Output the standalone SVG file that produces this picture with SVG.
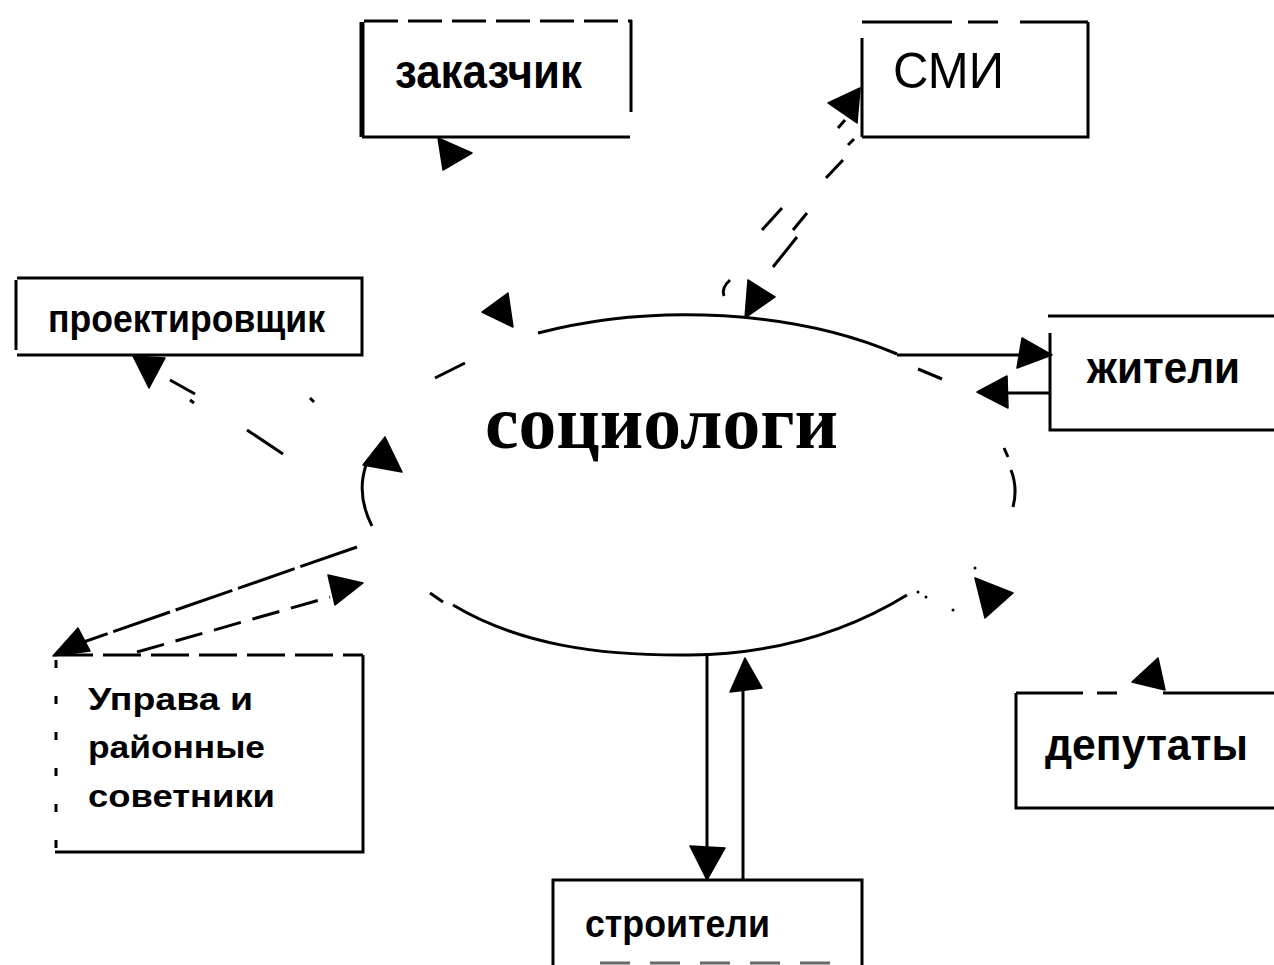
<svg xmlns="http://www.w3.org/2000/svg" width="1274" height="965" viewBox="0 0 1274 965">
<style>
.bg{fill:#fff}
.edge{fill:none;stroke:#000;stroke-width:3}
.thick{fill:none;stroke:#000;stroke-width:5}
.ln{fill:none;stroke:#000;stroke-width:3;stroke-linecap:butt}
.dash{fill:none;stroke:#000;stroke-width:3;stroke-dasharray:34 10}
.ah{fill:#000;stroke:#000;stroke-width:1.5;stroke-linejoin:round}
.dot{fill:#000}
.lbl{font-family:"Liberation Sans",Arial,sans-serif;font-weight:bold;fill:#000}
.reg{font-family:"Liberation Sans",Arial,sans-serif;font-weight:normal;fill:#000}
.ser{font-family:"Liberation Serif","Times New Roman",serif;font-weight:bold;fill:#000}
</style>
<rect class="bg" x="0" y="0" width="1274" height="965"/>

<g id="n-zakazchik">
  <path class="dash" d="M364,21 H632"/>
  <path class="thick" d="M362,22 V137"/>
  <path class="edge" d="M362,137 H630 M631,20 V112"/>
  <text class="lbl" x="395" y="88" font-size="48" textLength="187" lengthAdjust="spacingAndGlyphs">заказчик</text>
</g>

<g id="n-smi">
  <path class="edge" d="M862,22 H952 M968,22 H998 M1020,22 H1088 M1088,22 V137 H862 M862,38 V137"/>
  <text class="reg" x="893" y="88" font-size="50" textLength="111" lengthAdjust="spacingAndGlyphs">СМИ</text>
</g>

<g id="n-proektirovshchik">
  <path class="edge" d="M17,278 H362 V355 H17 M16,280 V350"/>
  <text class="lbl" x="48" y="332" font-size="38" textLength="277" lengthAdjust="spacingAndGlyphs">проектировщик</text>
</g>

<g id="n-sociologi">
  <path class="ln" d="M538,333 A330,171 0 0 1 897,354"/>
  <path class="ln" d="M435,378 L465,363"/>
  <path class="ln" d="M918,369 L942,379"/>
  <path class="ln" d="M1004,448 L1008,457"/>
  <path class="ln" d="M1011,470 Q1018,488 1013,507"/>
  <path class="ln" d="M430,593 L443,602"/>
  <path class="ln" d="M453,605 C520,645 600,656 690,655 C780,654 850,630 907,595"/>
  <circle class="dot" cx="918" cy="592" r="1.5"/>
  <circle class="dot" cx="926" cy="597" r="1.5"/>
  <circle class="dot" cx="953" cy="610" r="1.5"/>
  <circle class="dot" cx="975" cy="568" r="1.5"/>
  <text class="ser" x="485" y="448" font-size="76" textLength="353" lengthAdjust="spacingAndGlyphs">социологи</text>
</g>

<g id="n-zhiteli">
  <path class="edge" d="M1048,316 H1274 M1050,333 V430 H1274"/>
  <text class="lbl" x="1087" y="383" font-size="44" textLength="153" lengthAdjust="spacingAndGlyphs">жители</text>
</g>

<g id="n-uprava">
  <path class="edge" d="M363,655 V852 H55"/>
  <path class="ln" d="M55,655 H363" stroke-dasharray="38 10"/>
  <path class="ln" d="M56,660 V852" stroke-dasharray="8 28"/>
  <text class="lbl" x="88" y="710" font-size="31" textLength="165" lengthAdjust="spacingAndGlyphs">Управа и</text>
  <text class="lbl" x="88" y="758" font-size="31" textLength="177" lengthAdjust="spacingAndGlyphs">районные</text>
  <text class="lbl" x="88" y="807" font-size="31" textLength="187" lengthAdjust="spacingAndGlyphs">советники</text>
</g>

<g id="n-deputaty">
  <path class="edge" d="M1016,693 H1083 M1097,693 H1117 M1163,693 H1274 M1016,693 V808 H1274"/>
  <text class="lbl" x="1045" y="760" font-size="44" textLength="203" lengthAdjust="spacingAndGlyphs">депутаты</text>
</g>

<g id="n-stroiteli">
  <path class="edge" d="M553,965 V880 H862 V965"/>
  <path class="ln" d="M600,963 H850" stroke-dasharray="30 20" opacity="0.6"/>
  <text class="lbl" x="585" y="937" font-size="38" textLength="185" lengthAdjust="spacingAndGlyphs">строители</text>
</g>

<g id="connectors">
  <!-- заказчик -->
  <polygon class="ah" points="438,138 472,153 443,170"/>
  <!-- СМИ <-> социологи -->
  <polygon class="ah" points="860,88 828,103 857,123"/>
  <path class="ln" d="M848,145 L854,139 M826,178 L843,160 M793,230 L807,213 M773,267 L797,237 M762,230 L782,208 M838,128 L845,120"/>
  <path class="ln" d="M730,280 Q721,288 724,296"/>
  <polygon class="ah" points="748,280 775,297 745,318"/>
  <!-- top-left arrowhead -->
  <polygon class="ah" points="508,293 482,312 513,327"/>
  <!-- жители -->
  <path class="ln" d="M897,355 H1020"/>
  <polygon class="ah" points="1022,338 1052,355 1017,368"/>
  <path class="ln" d="M1050,393 H1005"/>
  <polygon class="ah" points="977,392 1007,376 1008,408"/>
  <!-- проектировщик -->
  <polygon class="ah" points="133,356 165,358 149,388"/>
  <path class="ln" d="M170,380 L195,394 M190,400 L194,403 M247,430 L283,454 M310,398 L314,402"/>
  <!-- left arc -->
  <path class="ln" d="M372,526 Q356,495 366,465"/>
  <polygon class="ah" points="385,437 363,465 402,472"/>
  <!-- Управа -->
  <path class="ln" d="M357,547 L75,645" stroke-dasharray="60 6"/>
  <polygon class="ah" points="78,628 53,656 90,651"/>
  <path class="ln" d="M137,652 L330,597" stroke-dasharray="28 12"/>
  <polygon class="ah" points="328,575 363,583 335,605"/>
  <!-- строители -->
  <path class="ln" d="M707,655 V848"/>
  <polygon class="ah" points="690,846 725,848 707,880"/>
  <path class="ln" d="M743,880 V688"/>
  <polygon class="ah" points="745,658 730,692 762,688"/>
  <!-- right / депутаты -->
  <polygon class="ah" points="975,578 1013,593 985,618"/>
  <polygon class="ah" points="1158,658 1132,682 1165,690"/>
</g>
</svg>
